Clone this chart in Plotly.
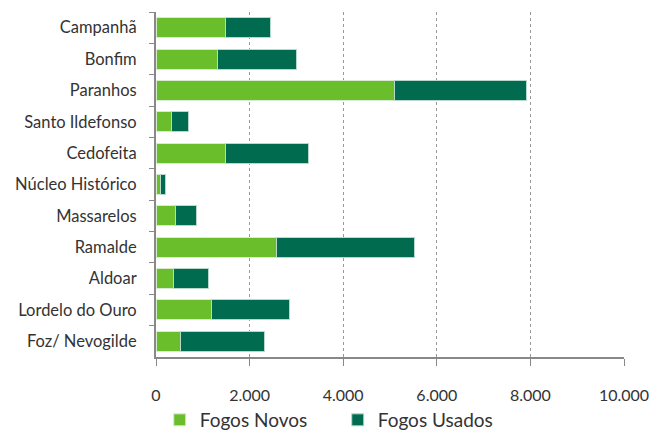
import plotly.graph_objects as go

categories = ["Campanhã", "Bonfim", "Paranhos", "Santo Ildefonso", "Cedofeita",
              "Núcleo Histórico", "Massarelos", "Ramalde", "Aldoar",
              "Lordelo do Ouro", "Foz/ Nevogilde"]
fogos_novos = [1490, 1310, 5100, 330, 1475, 95, 415, 2585, 365, 1190, 515]
fogos_usados = [946, 1690, 2820, 375, 1775, 105, 455, 2945, 755, 1665, 1795]
x_ticks = [0, 2000, 4000, 6000, 8000, 10000]
x_tick_labels = ["0", "2.000", "4.000", "6.000", "8.000", "10.000"]

FONT = "Lato"
fig = go.Figure()
fig.add_trace(go.Bar(y=categories, x=fogos_novos, orientation="h", name="Fogos Novos",
                     marker=dict(color="#6ABD2B", line=dict(color="#d8ecd0", width=1))))
fig.add_trace(go.Bar(y=categories, x=fogos_usados, orientation="h", name="Fogos Usados",
                     marker=dict(color="#006B4F", line=dict(color="#b8d8cc", width=1))))

fig.update_layout(
    barmode="stack", bargap=0.36,
    width=652, height=439,
    margin=dict(l=156, r=28, t=12, b=82, autoexpand=False),
    paper_bgcolor="white", plot_bgcolor="white",
    font=dict(family=FONT, size=16, color="#333333"),
    showlegend=True,
    legend=dict(orientation="h", xref="container", yref="container",
                x=0.245, xanchor="left", y=0.0, yanchor="bottom",
                font=dict(size=19, color="#333333"), traceorder="normal",
                entrywidth=133, entrywidthmode="pixels", itemwidth=30),
)
fig.update_xaxes(range=[0, 10000], tickvals=x_ticks, ticktext=x_tick_labels,
                 showgrid=True, gridcolor="#999999", griddash="dot", gridwidth=1,
                 showline=True, linecolor="#888888", linewidth=2,
                 ticks="outside", ticklen=7, tickcolor="#888888",
                 ticklabelstandoff=16, zeroline=False, automargin=False,
                 tickfont=dict(size=16, color="#333333"))
fig.update_yaxes(autorange="reversed", showline=True, linecolor="#888888", linewidth=2,
                 ticks="outside", ticklen=5, tickcolor="#888888", tickson="boundaries",
                 showgrid=False, ticklabelstandoff=14, automargin=False,
                 tickfont=dict(size=16.5, color="#333333"))

fig.write_html("out.html")
